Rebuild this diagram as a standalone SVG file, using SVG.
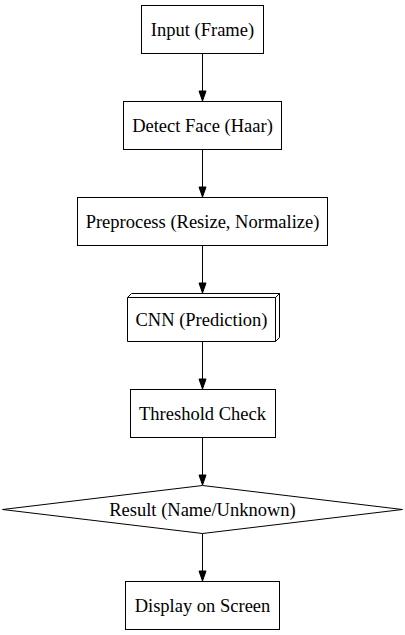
<svg xmlns="http://www.w3.org/2000/svg" width="405" height="635" viewBox="0 0 405 635">
<style>
.n{fill:#fff;stroke:#000;stroke-width:1}
.t{font-size:18.5px;fill:#000;text-anchor:middle}
.e{stroke:#000;stroke-width:1;fill:none}
.h{fill:#000;stroke:#000}
</style>
<rect width="405" height="635" fill="#fff"/>
<g id="connectors">
<path class="e" d="M202.5 53V91"/><polygon class="h" points="199,91 206,91 202.5,101"/>
<path class="e" d="M202.5 149V187"/><polygon class="h" points="199,187 206,187 202.5,197"/>
<path class="e" d="M202.5 245V283"/><polygon class="h" points="199,283 206,283 202.5,293"/>
<path class="e" d="M202.5 341V379"/><polygon class="h" points="199,379 206,379 202.5,389"/>
<path class="e" d="M202.5 437V475"/><polygon class="h" points="199,475 206,475 202.5,485"/>
<path class="e" d="M202.5 533V571"/><polygon class="h" points="199,571 206,571 202.5,581"/>
</g>
<g font-family="Liberation Serif, serif">
<g id="input"><rect class="n" x="141.5" y="5.5" width="122" height="48"/><text class="t" x="202.5" y="35.5">Input (Frame)</text></g>
<g id="detect"><rect class="n" x="123.5" y="101.5" width="158" height="48"/><text class="t" x="202.5" y="131.5">Detect Face (Haar)</text></g>
<g id="preprocess"><rect class="n" x="77.5" y="197.5" width="250" height="48"/><text class="t" x="202.5" y="227.5">Preprocess (Resize, Normalize)</text></g>
<g id="cnn"><polygon class="n" points="279.5,293.5 131.5,293.5 127.5,297.5 127.5,341.5 275.5,341.5 279.5,337.5"/><polyline class="e" points="275.5,341.5 275.5,297.5 127.5,297.5"/><line class="e" x1="275.5" y1="297.5" x2="279.5" y2="293.5"/><text class="t" x="201.5" y="325.5">CNN (Prediction)</text></g>
<g id="threshold"><rect class="n" x="130.5" y="389.5" width="145" height="48"/><text class="t" x="202.5" y="419.5">Threshold Check</text></g>
<g id="result"><polygon class="n" points="202.5,485.5 402.5,509.5 202.5,533.5 2.5,509.5"/><text class="t" x="202.5" y="515.5">Result (Name/Unknown)</text></g>
<g id="display"><rect class="n" x="125.5" y="581.5" width="154" height="48"/><text class="t" x="202.5" y="611.5">Display on Screen</text></g>
</g>
</svg>
